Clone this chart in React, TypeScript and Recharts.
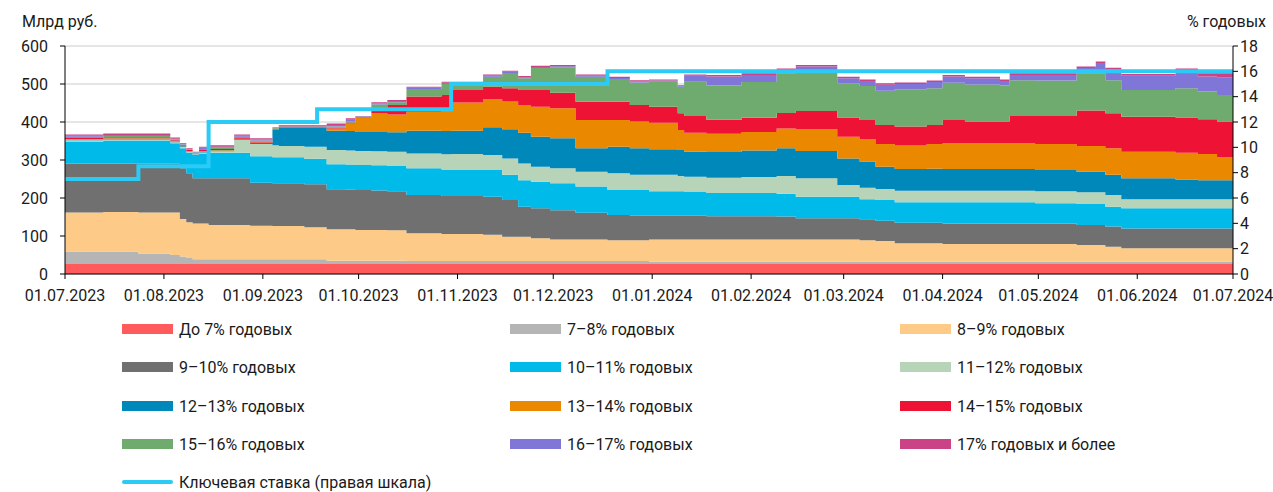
import React from "react";
import { Area, CartesianGrid, ComposedChart, Line, XAxis, YAxis } from "recharts";

// days counted from 01.07.2023
const days = [0, 12, 23, 33, 36, 38, 40, 42, 45, 53, 58, 65, 67, 75, 79, 82, 88, 91, 96, 101, 107, 118, 121, 131, 137, 142, 146, 152, 160, 170, 177, 183, 192, 194, 201, 212, 223, 229, 242, 249, 254, 260, 270, 275, 282, 293, 296, 304, 317, 323, 326, 331, 348, 355, 361, 366];

const upTo7 = [26, 26, 26, 26, 26, 26, 26, 26, 26, 26, 26, 26, 26, 26, 26, 26, 26, 26, 26, 26, 26, 26, 26, 26, 26, 26, 26, 26, 26, 26, 26, 26, 26, 26, 26, 26, 26, 26, 26, 26, 26, 26, 26, 26, 26, 26, 26, 26, 26, 26, 26, 26, 26, 26, 26, 26];
const r7to8 = [33, 33, 28, 24, 20, 16, 13, 13, 13, 13, 13, 13, 13, 13, 13, 9, 9, 9, 9, 9, 8, 8, 8, 8, 8, 8, 8, 8, 8, 8, 8, 6, 6, 6, 6, 6, 6, 6, 6, 6, 6, 6, 6, 6, 6, 6, 6, 6, 6, 6, 6, 6, 6, 6, 6, 6];
const r8to9 = [103, 104, 108, 112, 99, 94, 94, 94, 90, 90, 88, 87, 87, 84, 84, 83, 83, 81, 81, 80, 73, 71, 71, 69, 64, 64, 60, 57, 57, 55, 55, 59, 59, 59, 59, 59, 59, 59, 59, 57, 55, 49, 49, 47, 47, 47, 47, 47, 44, 44, 40, 36, 36, 36, 36, 36];
const r9to10 = [129, 128, 129, 128, 133, 129, 119, 119, 123, 123, 113, 113, 113, 113, 113, 105, 104, 105, 104, 103, 101, 100, 100, 100, 97, 79, 79, 77, 70, 66, 64, 62, 62, 62, 61, 61, 60, 56, 56, 55, 53, 54, 54, 54, 54, 54, 54, 54, 53, 53, 53, 52, 52, 52, 52, 52];
const r10to11 = [58, 60, 60, 54, 53, 55, 61, 65, 67, 67, 70, 68, 68, 67, 67, 66, 66, 66, 66, 66, 70, 70, 69, 71, 66, 70, 70, 71, 69, 66, 68, 65, 65, 64, 61, 61, 60, 56, 56, 53, 55, 54, 54, 56, 56, 56, 56, 53, 55, 55, 52, 53, 53, 53, 53, 53];
const r11to12 = [3, 3, 3, 3, 3, 2, 2, 3, 4, 34, 32, 32, 30, 32, 32, 37, 37, 37, 37, 38, 39, 40, 42, 39, 43, 44, 39, 39, 39, 44, 40, 43, 40, 39, 40, 42, 47, 49, 31, 30, 29, 30, 30, 30, 30, 30, 30, 32, 31, 31, 31, 24, 24, 24, 24, 24];
const r12to13 = [2, 2, 2, 2, 2, 1, 1, 2, 2, 2, 3, 40, 49, 51, 51, 51, 51, 50, 51, 51, 60, 61, 61, 73, 77, 81, 79, 79, 62, 70, 70, 67, 68, 66, 68, 70, 73, 72, 70, 69, 58, 57, 58, 57, 57, 57, 57, 56, 54, 54, 53, 55, 52, 50, 50, 50];
const r13to14 = [1, 1, 1, 1, 1, 1, 1, 1, 1, 1, 1, 1, 1, 1, 1, 6, 20, 38, 49, 47, 50, 60, 74, 74, 73, 73, 79, 79, 74, 70, 70, 70, 53, 50, 48, 49, 52, 57, 57, 59, 60, 62, 65, 68, 68, 68, 68, 68, 68, 68, 70, 70, 70, 69, 60, 60];
const r14to15 = [3, 3, 3, 2, 2, 2, 1, 3, 3, 2, 2, 2, 1, 1, 1, 2, 3, 1, 13, 25, 40, 35, 33, 33, 35, 39, 44, 41, 48, 48, 44, 42, 44, 44, 37, 37, 41, 48, 51, 50, 50, 50, 50, 61, 57, 57, 72, 74, 93, 93, 92, 92, 93, 91, 94, 94];
const r15to16 = [3, 3, 3, 2, 2, 2, 2, 3, 3, 3, 3, 2, 1, 1, 1, 3, 3, 1, 10, 7, 20, 29, 16, 26, 40, 31, 58, 67, 66, 60, 59, 66, 70, 90, 90, 94, 104, 101, 90, 90, 90, 98, 97, 98, 98, 95, 94, 93, 98, 98, 87, 70, 77, 73, 70, 70];
const r16to17 = [3, 3, 3, 2, 2, 1, 1, 3, 3, 3, 3, 1, 1, 1, 1, 4, 4, 1, 3, 3, 3, 3, 3, 3, 3, 3, 3, 3, 3, 3, 3, 3, 2, 16, 24, 19, 9, 16, 13, 13, 16, 14, 16, 17, 16, 12, 14, 15, 14, 27, 29, 38, 40, 40, 47, 47];
const r17plus = [3, 4, 4, 3, 2, 2, 1, 3, 4, 3, 3, 1, 2, 2, 2, 4, 4, 1, 3, 3, 3, 3, 3, 3, 3, 3, 3, 3, 3, 3, 3, 3, 2, 3, 4, 4, 4, 4, 4, 4, 4, 4, 4, 4, 4, 4, 4, 4, 4, 4, 4, 4, 12, 8, 10, 10];

const keyRate = [7.5, 7.5, 8.5, 8.5, 8.5, 8.5, 8.5, 8.5, 12, 12, 12, 12, 12, 12, 13, 13, 13, 13, 13, 13, 13, 13, 15, 15, 15, 15, 15, 15, 15, 16, 16, 16, 16, 16, 16, 16, 16, 16, 16, 16, 16, 16, 16, 16, 16, 16, 16, 16, 16, 16, 16, 16, 16, 16, 16, 16];

const monthTicks = [0, 31, 62, 92, 123, 153, 184, 215, 244, 275, 305, 336, 366];
const monthLabels = ["01.07.2023", "01.08.2023", "01.09.2023", "01.10.2023", "01.11.2023", "01.12.2023", "01.01.2024", "01.02.2024", "01.03.2024", "01.04.2024", "01.05.2024", "01.06.2024", "01.07.2024"];

const leftTicks = [0, 100, 200, 300, 400, 500, 600];
const rightTicks = [0, 2, 4, 6, 8, 10, 12, 14, 16, 18];

const series = [
  { key: "s1", name: "До 7% годовых", color: "#ff5a5c", values: upTo7 },
  { key: "s2", name: "7–8% годовых", color: "#b5b5b5", values: r7to8 },
  { key: "s3", name: "8–9% годовых", color: "#fdca88", values: r8to9 },
  { key: "s4", name: "9–10% годовых", color: "#6f706f", values: r9to10 },
  { key: "s5", name: "10–11% годовых", color: "#00baea", values: r10to11 },
  { key: "s6", name: "11–12% годовых", color: "#b7d3b8", values: r11to12 },
  { key: "s7", name: "12–13% годовых", color: "#0088ba", values: r12to13 },
  { key: "s8", name: "13–14% годовых", color: "#ea8800", values: r13to14 },
  { key: "s9", name: "14–15% годовых", color: "#ee1235", values: r14to15 },
  { key: "s10", name: "15–16% годовых", color: "#6faa6f", values: r15to16 },
  { key: "s11", name: "16–17% годовых", color: "#8076d8", values: r16to17 },
  { key: "s12", name: "17% годовых и более", color: "#c94386", values: r17plus },
];
const rateName = "Ключевая ставка (правая шкала)";
const rateColor = "#2bcbf5";

const data = days.map((day, i) => {
  const row: Record<string, number> = { day, rate: keyRate[i] };
  series.forEach((s) => {
    row[s.key] = s.values[i];
  });
  return row;
});

const font = "Roboto, 'Noto Sans', sans-serif";
const tickStyle = { fill: "#1a1a1a", fontSize: 16, fontFamily: font };

const colLeft = [122, 510, 900];
const rowMid = [329, 367, 406, 444, 482];

export default function App() {
  return (
    <div style={{ position: "absolute", left: 0, top: 0, width: 1273, height: 492, background: "#fff", fontFamily: font, color: "#1a1a1a" }}>
      <div style={{ position: "absolute", left: 22, top: 12, fontSize: 16 }}>Млрд руб.</div>
      <div style={{ position: "absolute", right: 7, top: 12, fontSize: 16 }}>% годовых</div>
      <ComposedChart width={1273} height={320} data={data} margin={{ top: 46, right: 0, bottom: 0, left: 0 }}>
        <CartesianGrid yAxisId="left" vertical={false} stroke="#cccccc" />
        <XAxis
          dataKey="day"
          type="number"
          domain={[0, 366]}
          ticks={monthTicks}
          tickFormatter={(v: number) => monthLabels[monthTicks.indexOf(v)] ?? ""}
          height={46}
          tick={tickStyle}
          tickSize={5}
          tickMargin={11}
          stroke="#000"
          interval={0}
        />
        <YAxis
          yAxisId="left"
          domain={[0, 600]}
          ticks={leftTicks}
          width={65}
          tick={tickStyle}
          tickSize={5}
          tickMargin={12}
          stroke="#000"
          interval={0}
        />
        <YAxis
          yAxisId="right"
          orientation="right"
          domain={[0, 18]}
          ticks={rightTicks}
          width={40}
          tick={{ ...tickStyle, textAnchor: "start" }}
          tickSize={5}
          tickMargin={2}
          stroke="#000"
          interval={0}
        />
        {series.map((s) => (
          <Area
            key={s.key}
            yAxisId="left"
            type="stepAfter"
            dataKey={s.key}
            name={s.name}
            stackId="a"
            fill={s.color}
            fillOpacity={1}
            stroke="none"
            isAnimationActive={false}
          />
        ))}
        <Line
          yAxisId="right"
          type="stepAfter"
          dataKey="rate"
          name={rateName}
          stroke={rateColor}
          strokeWidth={4}
          dot={false}
          activeDot={false}
          isAnimationActive={false}
        />
      </ComposedChart>
      {series.map((s, i) => (
        <div
          key={s.key}
          style={{ position: "absolute", left: colLeft[i % 3], top: rowMid[Math.floor(i / 3)] - 10, height: 20, display: "flex", alignItems: "center" }}
        >
          <span style={{ display: "inline-block", width: 51, height: 10, background: s.color, marginRight: 6 }} />
          <span style={{ fontSize: 16, whiteSpace: "nowrap" }}>{s.name}</span>
        </div>
      ))}
      <div style={{ position: "absolute", left: colLeft[0], top: rowMid[4] - 10, height: 20, display: "flex", alignItems: "center" }}>
        <span style={{ display: "inline-block", width: 51, height: 4, borderRadius: 2, background: rateColor, marginRight: 6 }} />
        <span style={{ fontSize: 16, whiteSpace: "nowrap" }}>{rateName}</span>
      </div>
    </div>
  );
}
